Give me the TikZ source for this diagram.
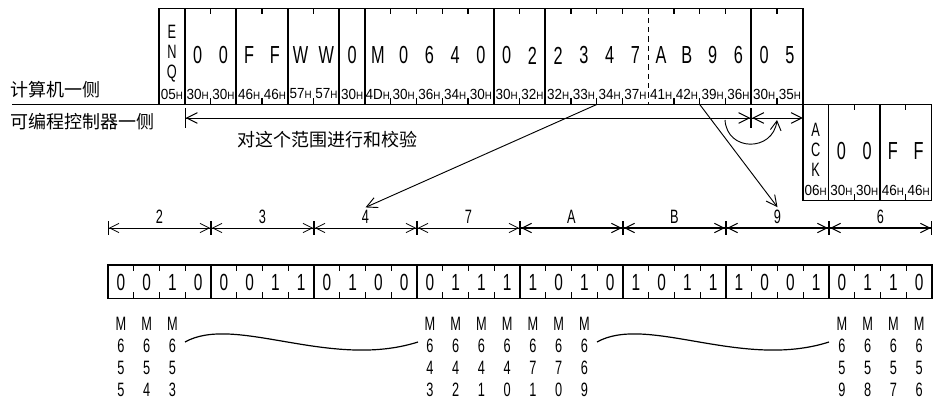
\documentclass[tikz,border=0pt]{standalone}
\usepackage{fontspec}
\setmainfont{Liberation Sans}
\newfontfamily\cndfont[FakeStretch=0.66]{Liberation Sans}
\newfontfamily\hexfont[FakeStretch=0.92]{Liberation Sans}
\newfontfamily\cjkfont{Noto Sans CJK SC}
\usetikzlibrary{positioning,arrows.meta,calc}
\newcommand{\hx}[1]{#1{\fontsize{8}{8}\selectfont H}}
\begin{document}
\begin{tikzpicture}[x=0.75pt,y=-0.75pt,
  chr/.style={font=\cndfont\fontsize{18.5}{18.5}\selectfont, inner sep=0pt},
  pila/.style={font=\cndfont\fontsize{14.5}{15}\selectfont, inner sep=0pt,
               align=center},
  hexl/.style={font=\hexfont\fontsize{11}{11}\selectfont, inner sep=0pt},
  bitn/.style={font=\cndfont\fontsize{17.5}{17.5}\selectfont, inner sep=0pt},
  mrel/.style={font=\cndfont\fontsize{14.5}{16.7}\selectfont, inner sep=0pt,
               align=center, anchor=north},
  seg/.style={font=\cndfont\fontsize{14.5}{14.5}\selectfont, inner sep=0pt},
  cjk/.style={font=\cjkfont\fontsize{13.5}{13.5}\selectfont, inner sep=0pt,
              anchor=west},
  borde/.style={line width=1.2pt},
  marca/.style={line width=0.8pt},
  rango/.style={line width=0.7pt},
  onda/.style={line width=0.9pt},
  dimf/.style={line width=0.6pt,
    {Bar[width=10pt]Straight Barb[length=7pt,width=7pt]}-{Straight Barb[length=7pt,width=7pt]Bar[width=10pt]}},
  dimg/.style={line width=1.5pt,
    {Bar[width=10pt,line width=0.8pt]Straight Barb[length=7pt,width=7pt,line width=0.8pt]}-{Straight Barb[length=7pt,width=7pt,line width=0.8pt]Bar[width=10pt,line width=0.8pt]}}]
  \useasboundingbox (0,0) rectangle (933,399);

  \node[cjk] (pc)  at (10,90)  {计算机一侧};
  \node[cjk] (plc) at (10,122) {可编程控制器一侧};
  \draw[borde] (12,104.5) -- (159,104.5);

  \draw[borde] (159,8.5) rectangle (802.75,104.5);
  \foreach \i in {1,3,5,7,8,13,15,23}
    \draw[borde] ({159+\i*25.75},8.5) -- ++(0,96);
  \draw[marca, dash pattern=on 4pt off 3pt] ({159+19*25.75},8.5) -- ++(0,96);
  \foreach \i in {2,4,6,9,10,11,12,14,16,17,18,20,21,22,24} {
    \draw[marca] ({159+\i*25.75},8.5) -- ++(0,6);
    \draw[marca] ({159+\i*25.75},104.5) -- ++(0,-6);
  }
  \node[pila] (enq) at ({159+0.5*25.75},54) {E\\N\\Q};
  \foreach \c [count=\i] in {0,0,F,F,W,W,0,M,0,6,4,0,0,2,2,3,4,7,A,B,9,6,0,5}
    \node[chr] (c\i) at ({159+(\i+0.5)*25.75},55.5) {\c};
  \foreach \h [count=\i from 0] in {05,30,30,46,46,57,57,30,4D,30,36,34,30,
                                    30,32,32,33,34,37,41,42,39,36,30,35}
    \node[hexl] (h\i) at ({159+(\i+0.5)*25.75},94) {\hx{\h}};

  \draw[borde] (802.75,104.5) rectangle ++(128.75,96);
  \foreach \i in {1,3}
    \draw[borde] ({802.75+\i*25.75},104.5) -- ++(0,96);
  \foreach \i in {2,4} {
    \draw[marca] ({802.75+\i*25.75},104.5) -- ++(0,6);
    \draw[marca] ({802.75+\i*25.75},200.5) -- ++(0,-6);
  }
  \node[pila] (ack) at ({802.75+0.5*25.75},150) {A\\C\\K};
  \foreach \c [count=\i] in {0,0,F,F}
    \node[chr] (a\i) at ({802.75+(\i+0.5)*25.75},151.5) {\c};
  \foreach \h [count=\i from 0] in {06,30,30,46,46}
    \node[hexl] (k\i) at ({802.75+(\i+0.5)*25.75},190) {\hx{\h}};

  \coordinate (r0) at (184.75,118);
  \coordinate (r1) at (751.25,118);
  \coordinate (r2) at (802.75,118);
  \draw[rango, {Bar[width=15pt]Straight Barb[length=8pt,width=8pt]}-{Straight Barb[length=8pt,width=8pt]Bar[width=15pt]}]
    (r0) -- (r1);
  \draw[rango, {Bar[width=15pt]Straight Barb[length=8pt,width=8pt]}-{Straight Barb[length=8pt,width=8pt]}]
    (r1) -- (r2);
  \node[cjk, anchor=center] (suma) at (327,140) {对这个范围进行和校验};
  \coordinate (ca) at (725,120);
  \coordinate (cb) at (777,120);
  \draw[rango, -{Straight Barb[length=7pt,width=8pt]}]
    (ca) .. controls (727,152) and (773,152) .. (cb);

  \foreach \d [count=\k from 0] in {2,3,4,7} {
    \coordinate (s\k) at ({108+\k*103},228);
    \draw[dimf] (s\k) -- ++(103,0);
    \node[seg] (d\k) at ({108+(\k+0.5)*103},217) {\d};
  }
  \foreach \d [count=\k from 4] in {A,B,9,6} {
    \coordinate (s\k) at ({108+\k*103},228);
    \draw[dimg] (s\k) -- ++(103,0);
    \node[seg] (d\k) at ({108+(\k+0.5)*103},217) {\d};
  }

  \coordinate (t34) at ({159+17*25.75},104.5);
  \coordinate (t39) at ({159+21*25.75},104.5);
  \draw[rango, -{Straight Barb[length=8pt,width=8pt]}] (t34) -- ([yshift=2pt]d2.north);
  \draw[rango, -{Straight Barb[length=8pt,width=8pt]}] (t39) -- ([yshift=2pt]d6.north);

  \draw[borde] (108,265) rectangle (932,298.5);
  \foreach \j in {4,8,...,28}
    \draw[borde] ({108+\j*25.75},265) -- ++(0,33.5);
  \foreach \j in {1,2,3,5,6,7,9,10,11,13,14,15,17,18,19,21,22,23,25,26,27,29,30,31} {
    \draw[marca] ({108+\j*25.75},265) -- ++(0,6);
    \draw[marca] ({108+\j*25.75},298.5) -- ++(0,-6);
  }
  \foreach \b [count=\j from 0] in {0,0,1,0,0,0,1,1,0,1,0,0,0,1,1,1,
                                   1,0,1,0,1,0,1,1,1,0,0,1,0,1,1,0}
    \node[bitn] (b\j) at ({108+(\j+0.5)*25.75},282) {\b};

  \foreach \j/\da/\db/\dc in {0/6/5/5,1/6/5/4,2/6/5/3,12/6/4/3,13/6/4/2,
      14/6/4/1,15/6/4/0,16/6/7/1,17/6/7/0,18/6/6/9,28/6/5/9,29/6/5/8,
      30/6/5/7,31/6/5/6}
    \node[mrel] (m\j) at ({108+(\j+0.5)*25.75},316.5) {M\\\da\\\db\\\dc};
  \draw[onda] (185,342) .. controls (235,314) and (330,370) .. (418,342);
  \draw[onda] (597,342) .. controls (647,314) and (742,370) .. (829,342);
\end{tikzpicture}
\end{document}
